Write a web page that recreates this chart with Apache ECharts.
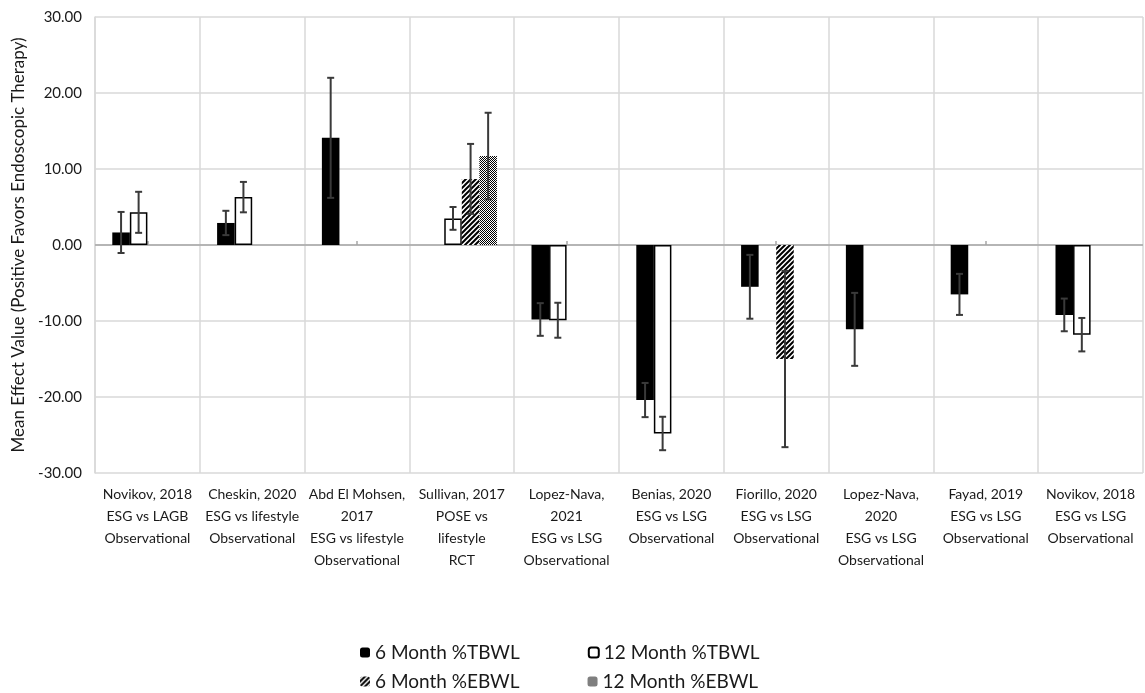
<!DOCTYPE html>
<html>
<head>
<meta charset="utf-8">
<script src="https://cdn.jsdelivr.net/npm/echarts@6/dist/echarts.min.js"></script>
<style>
  html, body { margin: 0; padding: 0; background: #fff; }
  #chart { width: 1145px; height: 693px; }
</style>
</head>
<body>
<div id="chart"></div>
<script>
// categories (study, comparison, design)
const categories = [
    'Novikov, 2018\nESG vs LAGB\nObservational',
    'Cheskin, 2020\nESG vs lifestyle\nObservational',
    'Abd El Mohsen,\n2017\nESG vs lifestyle\nObservational',
    'Sullivan, 2017\nPOSE vs\nlifestyle\nRCT',
    'Lopez-Nava,\n2021\nESG vs LSG\nObservational',
    'Benias, 2020\nESG vs LSG\nObservational',
    'Fiorillo, 2020\nESG vs LSG\nObservational',
    'Lopez-Nava,\n2020\nESG vs LSG\nObservational',
    'Fayad, 2019\nESG vs LSG\nObservational',
    'Novikov, 2018\nESG vs LSG\nObservational'
];

const seriesNames = ['6 Month %TBWL', '12 Month %TBWL', '6 Month %EBWL', '12 Month %EBWL'];

// mean effect values
const tbwl6 = [1.65, 2.9, 14.1, null, -9.8, -20.4, -5.5, -11.1, -6.5, -9.2];
const tbwl12 = [4.3, 6.3, null, 3.5, -9.9, -24.8, null, null, null, -11.8];
const ebwl6 = [null, null, null, 8.7, null, null, -15.0, null, null, null];
const ebwl12 = [null, null, null, 11.7, null, null, null, null, null, null];

// error bar half widths
const tbwl6Err = [2.7, 1.6, 7.9, null, 2.15, 2.25, 4.2, 4.8, 2.7, 2.15];
const tbwl12Err = [2.7, 2.0, null, 1.5, 2.3, 2.2, null, null, null, 2.2];
const ebwl6Err = [null, null, null, 4.6, null, null, 11.6, null, null, null];
const ebwl12Err = [null, null, null, 5.7, null, null, null, null, null, null];

const yTicks = [-30, -20, -10, 0, 10, 20, 30];

const CAT_GAP = 0.33;
const textColor = '#1a1a1a';
const gridColor = '#d9d9d9';

function stripes() {
    const c = document.createElement('canvas');
    c.width = 5; c.height = 5;
    const ctx = c.getContext('2d');
    ctx.fillStyle = '#fff';
    ctx.fillRect(0, 0, 5, 5);
    ctx.strokeStyle = '#000';
    ctx.lineWidth = 2;
    ctx.beginPath();
    for (let k = -5; k <= 10; k += 5) {
        ctx.moveTo(k - 5, 5 + 5);
        ctx.lineTo(k + 10, -5);
    }
    ctx.stroke();
    return c;
}

function checker() {
    const c = document.createElement('canvas');
    c.width = 2; c.height = 2;
    const ctx = c.getContext('2d');
    ctx.fillStyle = '#fff';
    ctx.fillRect(0, 0, 2, 2);
    ctx.fillStyle = '#000';
    ctx.fillRect(0, 0, 1, 1);
    ctx.fillRect(1, 1, 1, 1);
    return c;
}

const values = [tbwl6, tbwl12, ebwl6, ebwl12];
const errs = [tbwl6Err, tbwl12Err, ebwl6Err, ebwl12Err];

let errData = [];
values.forEach(function (arr, s) {
    arr.forEach(function (v, i) {
        if (v !== null && errs[s][i] !== null) {
            errData.push([i, s, v, errs[s][i]]);
        }
    });
});

const styles = [
    {color: '#000'},
    {color: '#fff', borderColor: '#000', borderWidth: 1.5},
    {color: {image: stripes(), repeat: 'repeat'}},
    {color: {image: checker(), repeat: 'repeat'}}
];

let barSeries = seriesNames.map(function (name, s) {
    return {
        name: name,
        type: 'bar',
        data: values[s],
        barGap: '0%',
        barCategoryGap: (CAT_GAP * 100) + '%',
        itemStyle: styles[s],
        z: 3
    };
});

barSeries[0].markLine = {
    silent: true,
    symbol: 'none',
    label: {show: false},
    lineStyle: {color: '#a6a6a6', width: 1.5, type: 'solid'},
    data: [{yAxis: 0}],
    z: 2
};

const errorSeries = {
    type: 'custom',
    name: 'error',
    data: errData,
    encode: {x: 0, y: 2},
    z: 10,
    silent: true,
    renderItem: function (params, api) {
        const cat = api.value(0);
        const s = api.value(1);
        const mean = api.value(2);
        const e = api.value(3);
        const band = api.size([1, 0])[0];
        const barW = band * (1 - CAT_GAP) / 4;
        const cx = api.coord([cat, 0])[0] - 2 * barW + (s + 0.5) * barW;
        const yTop = api.coord([cat, mean + e])[1];
        const yBot = api.coord([cat, mean - e])[1];
        const cap = 3.5;
        const st = {stroke: '#3a3a3a', lineWidth: 2};
        return {
            type: 'group',
            children: [
                {type: 'line', shape: {x1: cx, y1: yTop, x2: cx, y2: yBot}, style: st},
                {type: 'line', shape: {x1: cx - cap, y1: yTop, x2: cx + cap, y2: yTop}, style: st},
                {type: 'line', shape: {x1: cx - cap, y1: yBot, x2: cx + cap, y2: yBot}, style: st}
            ]
        };
    }
};

const legendText = {fontFamily: 'Lato', fontSize: 19, color: textColor};

const option = {
    animation: false,
    backgroundColor: '#fff',
    textStyle: {fontFamily: 'Lato'},
    grid: {left: 95, right: 2, top: 17, bottom: 220},
    legend: [{
        data: seriesNames.slice(0, 2),
        left: 355, top: 638,
        itemWidth: 10, itemHeight: 10, itemGap: 68,
        textStyle: legendText
    }, {
        data: seriesNames.slice(2, 4),
        left: 355, top: 667,
        itemWidth: 10, itemHeight: 10, itemGap: 68,
        textStyle: legendText
    }],
    xAxis: [{
        type: 'category',
        data: categories,
        boundaryGap: true,
        axisLine: {show: false, onZero: false},
        axisTick: {show: false},
        splitLine: {show: true, lineStyle: {color: gridColor, width: 1.5}},
        axisLabel: {
            interval: 0,
            fontFamily: 'Lato',
            fontSize: 14,
            lineHeight: 22,
            color: textColor,
            margin: 10,
            verticalAlign: 'top'
        }
    }, {
        type: 'category',
        data: categories,
        boundaryGap: true,
        position: 'bottom',
        axisLine: {show: false, onZero: true},
        axisTick: {show: true, inside: true, alignWithLabel: true, length: 4,
            lineStyle: {color: '#a6a6a6', width: 1.5}},
        axisLabel: {show: false},
        splitLine: {show: false}
    }],
    yAxis: {
        type: 'value',
        min: yTicks[0],
        max: yTicks[yTicks.length - 1],
        interval: 10,
        name: 'Mean Effect Value (Positive Favors Endoscopic Therapy)',
        nameLocation: 'middle',
        nameGap: 63,
        nameTextStyle: {fontFamily: 'Lato', fontSize: 17, color: textColor},
        axisLine: {show: true, lineStyle: {color: gridColor, width: 1.5}},
        axisTick: {show: false},
        splitLine: {lineStyle: {color: gridColor, width: 1.5}},
        axisLabel: {
            fontFamily: 'Lato',
            fontSize: 15,
            color: textColor,
            margin: 13,
            formatter: function (v) { return v.toFixed(2); }
        }
    },
    series: barSeries.concat([errorSeries])
};

const myChart = echarts.init(document.getElementById('chart'));
myChart.setOption(option);
</script>
</body>
</html>
